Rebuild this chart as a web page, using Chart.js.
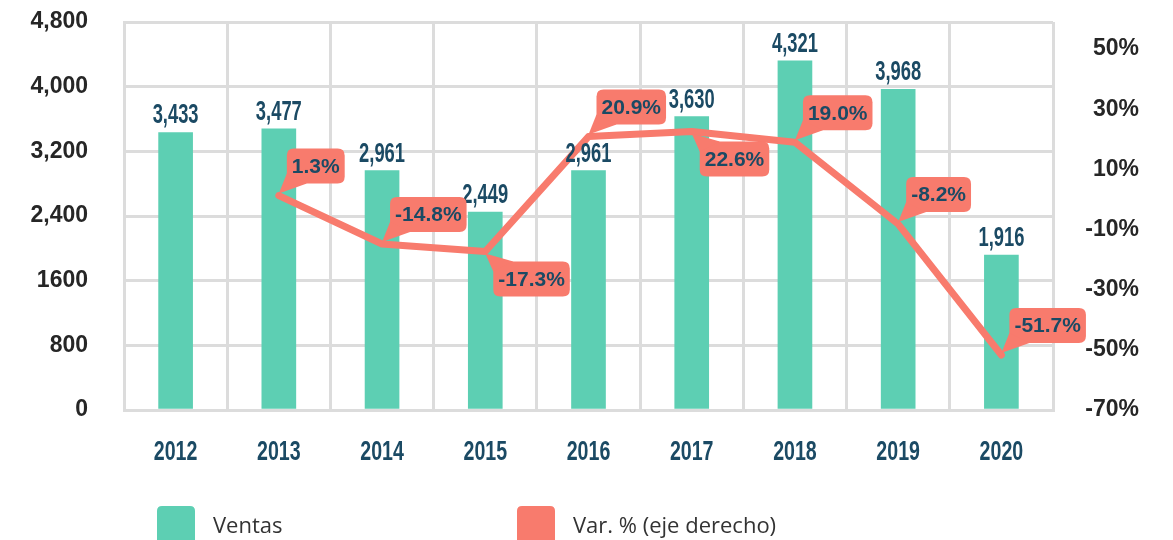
<!DOCTYPE html>
<html>
<head>
<meta charset="utf-8">
<title>Ventas</title>
<script src="https://cdn.jsdelivr.net/npm/chart.js@4.4.1/dist/chart.umd.min.js"></script>
<style>
    html, body { margin: 0; padding: 0; background: #fff; }
    #wrap { position: relative; width: 1173px; height: 540px; }
</style>
</head>
<body>
<div id="wrap"><canvas id="myChart"></canvas></div>
<script>
// datos
const years = ['2012', '2013', '2014', '2015', '2016', '2017', '2018', '2019', '2020'];
const ventas = [3433, 3477, 2961, 2449, 2961, 3630, 4321, 3968, 1916];
const variacion = [null, 1.3, -14.8, -17.3, 20.9, 22.6, 19.0, -8.2, -51.7];
const leftTicks = ['0', '800', '1600', '2,400', '3,200', '4,000', '4,800'];
const rightTicks = [-70, -50, -30, -10, 10, 30, 50];
const calloutBelow = ['2015', '2017'];

const VERDE = '#5dcfb3';
const SALMON = '#f87b6d';
const AZUL = '#1b4a64';
const GRIS = '#dcdcdc';
const TEXTO = '#262626';
const TRANSP = 'rgba(0,0,0,0)';
const FUENTE = '"Liberation Sans", Arial, sans-serif';

function condensedText(ctx, text, x, y, size, scaleX) {
    ctx.save();
    ctx.translate(x, y);
    ctx.scale(scaleX, 1);
    ctx.font = 'bold ' + size + 'px ' + FUENTE;
    ctx.textAlign = 'center';
    ctx.textBaseline = 'alphabetic';
    ctx.fillText(text, 0, 0);
    ctx.restore();
}

function roundBox(ctx, x, y, w, h, r) {
    ctx.beginPath();
    ctx.moveTo(x + r, y);
    ctx.lineTo(x + w - r, y);
    ctx.quadraticCurveTo(x + w, y, x + w, y + r);
    ctx.lineTo(x + w, y + h - r);
    ctx.quadraticCurveTo(x + w, y + h, x + w - r, y + h);
    ctx.lineTo(x + r, y + h);
    ctx.quadraticCurveTo(x, y + h, x, y + h - r);
    ctx.lineTo(x, y + r);
    ctx.quadraticCurveTo(x, y, x + r, y);
    ctx.closePath();
    ctx.fill();
}

const etiquetas = {
    id: 'etiquetas',
    afterDatasetsDraw: function(chart) {
        const ctx = chart.ctx;

        // valores sobre las barras
        ctx.fillStyle = AZUL;
        chart.getDatasetMeta(0).data.forEach(function(bar, i) {
            condensedText(ctx, ventas[i].toLocaleString('en-US'), bar.x, bar.y - 9, 27, 0.68);
        });

        // globos de la variacion
        chart.getDatasetMeta(1).data.forEach(function(pt, i) {
            if (variacion[i] === null) return;
            const txt = variacion[i].toFixed(1) + '%';
            ctx.font = 'bold 21px ' + FUENTE;
            const w = ctx.measureText(txt).width + 10;
            const h = 35;
            const below = calloutBelow.indexOf(years[i]) >= 0;
            const tx = pt.x;
            const ty = below ? pt.y + 2 : pt.y - 2;
            const bx = tx + 8;
            const by = below ? ty + 8 : ty - 10 - h;

            ctx.fillStyle = SALMON;
            roundBox(ctx, bx, by, w, h, 7);
            ctx.beginPath();
            ctx.moveTo(tx, ty);
            if (below) {
                ctx.lineTo(bx, by + 10);
                ctx.lineTo(bx + 20, by);
            } else {
                ctx.lineTo(bx, by + h - 10);
                ctx.lineTo(bx + 20, by + h);
            }
            ctx.closePath();
            ctx.fill();

            ctx.fillStyle = AZUL;
            ctx.textAlign = 'center';
            ctx.textBaseline = 'middle';
            ctx.fillText(txt, bx + w / 2, by + h / 2 + 1);
        });
    },
    afterDraw: function(chart) {
        const ctx = chart.ctx;
        const xScale = chart.scales.x;

        // años
        ctx.fillStyle = AZUL;
        years.forEach(function(y, i) {
            condensedText(ctx, y, xScale.getPixelForTick(i), 460, 28, 0.7);
        });

        // leyenda
        const legendX = [157, 517];
        chart.data.datasets.forEach(function(ds, i) {
            ctx.fillStyle = ds.type === 'line' ? ds.borderColor : ds.backgroundColor;
            roundBox(ctx, legendX[i], 506, 38, 40, 5);
            ctx.fillStyle = '#333333';
            ctx.font = '22px "Open Sans", sans-serif';
            ctx.textAlign = 'left';
            ctx.textBaseline = 'alphabetic';
            ctx.fillText(ds.label, legendX[i] + 56, 533);
        });
    }
};

const ctx = document.getElementById('myChart').getContext('2d');
const myChart = new Chart(ctx, {
    data: {
        labels: years,
        datasets: [{
            type: 'bar',
            label: 'Ventas',
            data: ventas,
            backgroundColor: VERDE,
            barThickness: 34,
            yAxisID: 'y',
            order: 2
        }, {
            type: 'line',
            label: 'Var. % (eje derecho)',
            data: variacion,
            borderColor: SALMON,
            backgroundColor: SALMON,
            borderWidth: 7,
            borderJoinStyle: 'round',
            borderCapStyle: 'round',
            pointRadius: 0,
            tension: 0,
            yAxisID: 'y1',
            order: 1
        }]
    },
    options: {
        responsive: true,
        maintainAspectRatio: false,
        animation: false,
        layout: { padding: { top: 22, left: 0, right: 34, bottom: 0 } },
        plugins: {
            legend: { display: false },
            tooltip: { enabled: false }
        },
        scales: {
            x: {
                grid: { offset: true, color: GRIS, lineWidth: 3, drawTicks: false },
                border: { color: GRIS, width: 3 },
                ticks: { display: false },
                afterFit: function(scale) { scale.height = 130; }
            },
            y: {
                position: 'left',
                min: 0,
                max: 4800,
                // la marca invisible hace de separacion entre texto y eje
                grid: { color: GRIS, lineWidth: 3, drawTicks: true, tickLength: 34, tickColor: TRANSP },
                border: { color: GRIS, width: 3 },
                ticks: {
                    stepSize: 800,
                    padding: 2,
                    color: TEXTO,
                    font: { family: FUENTE, size: 23, weight: 'bold' },
                    callback: function(v, idx) { return leftTicks[idx]; }
                },
                afterFit: function(scale) { scale.width = 124; }
            },
            y1: {
                position: 'right',
                min: -70,
                max: 59,
                grid: { color: TRANSP, drawOnChartArea: false, drawTicks: true, tickLength: 30, tickColor: TRANSP },
                border: { display: false },
                ticks: {
                    padding: 2,
                    crossAlign: 'far',
                    color: TEXTO,
                    font: { family: FUENTE, size: 23, weight: 'bold' },
                    callback: function(v) { return v + '%'; }
                },
                afterBuildTicks: function(axis) {
                    axis.ticks = rightTicks.map(function(v) { return { value: v }; });
                },
                afterFit: function(scale) { scale.width = 86; }
            }
        }
    },
    plugins: [etiquetas]
});
</script>
</body>
</html>
